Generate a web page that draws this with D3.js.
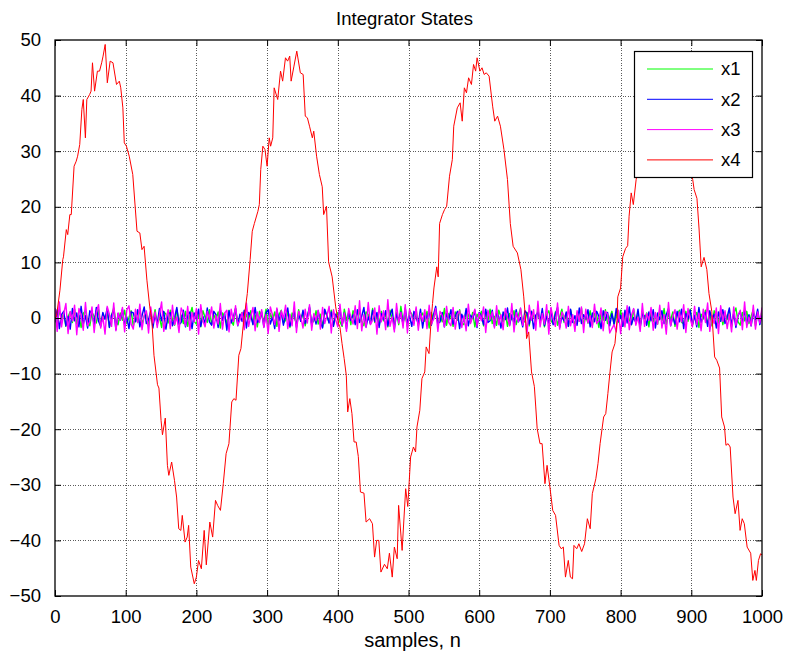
<!DOCTYPE html>
<html>
<head>
<meta charset="utf-8">
<script src="https://cdn.jsdelivr.net/npm/d3@7"></script>
<style>
  body { margin: 0; background: #fff; }
  text { font-family: "Liberation Sans", Arial, sans-serif; fill: #000; }
</style>
</head>
<body>
<svg id="chart" width="793" height="656"></svg>
<script>
// Axis ticks
const xTicks = d3.range(0, 1001, 100);
const yTicks = d3.range(-50, 51, 10);

// Series names and colours
const seriesNames = ["x1", "x2", "x3", "x4"];
const seriesColors = ["#00ff00", "#0000ff", "#ff00ff", "#ff0000"];

// x1..x3: small states hovering round zero, evenly sampled over 0..1000
const x1 = [
0.6,-1.2,1.4,-0.3,0.9,-1.5,0.2,1.1,-0.8,1.6,-1.1,0.4,-1.7,0.8,1.3,-0.5,-1.4,1.0,0.3,-0.9,
1.5,-1.3,0.7,-0.2,1.2,-1.6,0.5,1.8,-0.7,-1.2,0.9,-0.4,1.4,-1.0,0.1,1.3,-1.5,0.6,-0.8,1.7,
-1.1,0.3,1.0,-1.4,0.8,-0.6,1.5,-1.2,0.2,-1.7,1.1,0.7,-0.9,1.4,-0.3,-1.3,1.6,-0.7,0.5,-1.0,
1.2,-1.5,0.4,1.9,-0.6,-1.1,0.8,-1.6,1.3,0.1,-0.8,1.5,-1.2,0.6,-0.4,1.1,-1.8,0.9,0.3,-1.0,
1.4,-0.5,-1.3,1.7,-0.9,0.2,1.0,-1.4,0.7,-0.2,1.3,-1.1,0.5,-1.6,1.2,0.4,-0.7,1.6,-1.3,0.8,
-0.3,1.1,-1.5,0.6,1.4,-0.9,-0.4,1.2,-1.7,0.9,0.2,-1.2,1.5,-0.6,1.0,-1.4,0.3,1.8,-1.0,-0.5,
1.3,-1.1,0.7,-1.6,1.1,0.5,-0.8,1.4,-1.3,0.2,1.0,-0.7,-1.5,1.6,-0.4,0.9,-1.2,1.3,0.1,-1.0,
1.5,-0.6,-1.4,1.1,0.6,-1.1,1.7,-0.8,0.3,-1.3,1.2,-0.5,0.8,-1.6,1.4,-0.2,-0.9,1.0,-1.2,2.1,
-0.7,0.4,-1.5,1.3,0.7,-1.0,1.6,-1.4,0.2,0.9,-0.6,1.2,-1.8,1.0,-0.3,1.4,-1.1,0.5,-0.7,1.7,
-1.3,0.8,0.1,-1.5,1.1,-0.4,1.5,-0.9,-1.2,1.3,0.6,-0.8,1.0,-1.6,0.7,-0.1,1.2,-1.4,0.9,-0.5,
1.6,-1.0,0.3,-1.3,1.4,0.2,-0.7,1.1,-1.5,0.8,-0.3,1.3,-1.2,0.5,1.7,-0.9,-0.6,1.0,-1.4,1.2,
0.4,-1.1,1.5,-0.7,0.9,-1.6,0.6,1.3,-0.5,-1.0,1.1,-1.3,0.2,1.6,-0.8,0.7,-1.5,1.4,-0.2,-1.1,
0.9,-0.6,1.8,-1.2,0.3,-0.9,1.3,-1.4,0.8,0.5,-1.7,1.1,-0.4,1.5,-1.0,0.1,1.2,-1.3,0.6,-0.8,
1.4,-1.5,0.7,1.0,-0.3,-1.2,1.6,-0.9,0.4,-1.4,1.2,-0.1,0.9,-1.6,1.5,-0.7,0.3,-1.1,1.3,-0.5,
1.7,-1.2,0.8,-0.4,1.1,-1.5,0.5,1.4,-0.8,-1.0,1.2,-0.6,1.6,-1.3,0.2,1.0,-1.7,0.7,-0.2,1.4,
-1.1,0.6,-1.4,1.3,0.4,-0.9,1.5,-1.2,0.9,-0.3,1.1,-1.6,0.8,1.8,-0.7,-1.3,1.0,-0.5,1.2,-1.0,
0.3,1.5,-1.4,0.7,-0.6,1.3
];
const x2 = [
-0.8,1.5,-1.9,0.6,1.2,-1.4,0.3,-2.0,1.7,-0.5,0.9,-1.6,2.1,-1.1,0.4,-1.8,1.3,0.7,-1.2,1.9,
-0.6,-1.5,1.0,-0.2,1.8,-1.7,0.5,1.4,-2.1,0.8,-0.4,1.6,-1.3,0.2,-1.9,1.1,0.9,-0.7,1.5,-1.6,
0.4,2.0,-1.0,-0.3,1.3,-1.8,0.7,-1.1,1.7,-0.5,1.2,-2.0,0.6,1.0,-1.4,0.1,1.9,-1.2,-0.8,1.4,
-1.6,0.5,1.1,-1.9,0.9,-0.2,1.6,-1.5,0.3,-1.0,1.8,-0.7,-1.3,1.2,0.6,-1.7,1.5,-0.4,0.8,-2.2,
1.3,-0.9,0.2,1.7,-1.4,0.7,-0.6,1.4,-1.8,1.0,0.4,-1.2,1.9,-0.8,-0.3,1.1,-1.6,0.9,1.5,-1.1,
0.2,-1.9,1.6,-0.5,1.0,-1.3,0.6,1.8,-1.5,-0.1,1.2,-1.7,0.8,-0.6,1.4,-1.0,0.3,2.0,-1.4,0.5,
-1.1,1.3,-0.7,-1.8,1.6,0.4,-0.9,1.1,-1.5,0.7,-0.2,1.7,-1.3,0.9,-1.9,1.2,-0.4,0.6,-1.2,1.5,
-0.8,0.3,1.9,-1.6,0.2,-1.0,1.4,-0.6,1.0,-1.7,0.8,-0.3,1.3,-1.4,0.5,1.6,-2.0,0.7,-0.5,1.1,
-1.2,1.8,-0.9,0.4,-1.5,1.2,0.1,-1.1,1.6,-1.8,0.9,-0.2,1.4,-1.3,0.6,2.1,-1.0,-0.7,1.0,-1.6,
0.8,-0.4,1.5,-1.1,0.3,1.2,-1.9,0.7,-0.6,1.7,-1.4,0.5,-0.1,1.3,-1.7,1.0,0.4,-1.2,1.6,-0.8,
-0.5,1.4,-1.5,0.9,0.2,-1.8,1.1,-0.3,1.8,-1.3,0.6,-1.0,1.5,-0.7,0.1,-1.6,1.3,0.8,-1.1,1.2,
-1.9,0.5,1.0,-0.6,1.7,-1.4,0.3,-0.9,1.4,-1.2,0.7,1.9,-1.7,0.2,-0.5,1.1,-1.5,1.6,-0.8,0.4,
-1.3,1.8,-1.0,0.6,-0.2,1.5,-1.6,0.9,-0.7,1.2,0.3,-1.9,1.3,-0.4,1.0,-1.4,0.8,-1.1,1.7,-0.6,
0.5,-1.5,1.4,-0.9,2.0,-1.2,0.1,-0.8,1.6,-1.7,0.7,0.4,-1.3,1.1,-0.5,1.5,-1.8,0.9,-0.3,1.3,
-1.0,0.6,1.7,-1.4,0.2,-1.1,1.2,-0.7,1.6,-1.9,0.8,-0.2,1.4,-1.2,0.5,-1.6,1.9,-0.8,0.3,1.0,
-1.5,1.3,-0.4,0.7,-1.8,1.1,-0.6,1.5,-1.0,0.2,1.8,-1.3,0.9,-1.7,0.4,1.2,-0.9,1.4,-1.1,0.6,
-1.4,1.0,-0.3,1.6,-1.2,0.5
];
const x3 = [
1.8,-2.4,2.9,-1.6,0.8,2.6,-2.8,1.2,-0.5,2.3,-3.0,1.7,0.4,-2.2,2.8,-1.4,-0.6,2.0,-2.6,1.0,
2.4,-1.8,0.3,-2.9,2.1,0.7,-1.5,2.7,-2.3,0.9,-0.4,1.9,-2.5,1.4,2.2,-1.1,-2.0,1.6,-0.8,2.5,
-2.1,0.5,1.3,-2.7,2.0,-0.9,1.1,-1.7,0.6,2.9,-2.4,-0.3,1.5,-1.9,2.3,-1.2,0.2,-2.6,1.8,0.8,
-1.4,2.1,-2.2,1.0,-0.7,1.7,-2.9,2.4,-0.5,-1.6,1.2,-0.2,2.0,-1.8,0.4,-1.1,2.6,-2.0,0.9,1.4,
-2.5,1.6,-0.6,2.2,-1.3,-0.4,1.0,-2.1,2.7,-1.5,0.3,1.9,-2.3,1.1,-0.8,1.5,-1.7,0.6,-2.8,2.0,
0.5,-1.2,1.8,-2.4,1.3,-0.1,2.3,-1.9,0.7,-1.4,2.9,-2.6,1.2,0.2,-1.8,1.6,-0.9,2.4,-2.2,0.8,
-0.5,1.4,-2.0,1.9,-1.0,0.4,2.1,-2.7,1.5,-0.3,-1.6,2.5,-1.3,0.9,-2.4,1.7,0.1,-1.1,2.2,-1.9,
3.1,-2.3,0.6,-1.7,2.8,-1.2,-0.4,1.8,-2.9,2.2,-0.7,1.3,-2.1,3.3,-1.5,0.2,-2.5,2.6,-0.9,1.0,
-1.8,2.4,-2.7,1.6,0.3,-1.3,2.0,-2.2,0.8,-0.6,1.5,-1.9,2.3,-1.1,-0.2,1.7,-2.4,1.2,0.5,-1.6,
2.1,-0.8,-1.4,1.9,-2.0,0.7,1.3,-1.7,0.4,-2.3,2.5,-1.0,0.2,1.6,-1.5,0.9,-0.5,2.0,-2.6,1.4,
-0.3,1.1,-1.8,2.2,-1.2,0.6,-2.1,1.7,0.1,-1.4,2.6,-2.5,1.0,-0.7,1.8,-1.3,0.5,-2.8,2.3,-0.4,
1.5,-2.2,3.0,-1.6,0.8,-1.1,2.4,-2.9,1.9,-0.2,-1.5,2.7,-2.0,1.1,0.3,-1.8,2.1,-1.4,0.6,-2.4,
1.3,-0.6,2.0,-2.6,1.6,-0.9,0.4,-1.7,2.5,-1.0,-0.5,1.8,-2.3,1.2,0.7,-2.7,-1.9,-1.2,-2.5,1.4,
-2.8,0.9,-1.6,2.2,-2.1,0.5,1.7,-1.3,0.2,-2.4,2.6,-1.5,0.8,-0.4,1.9,-2.2,1.0,-1.1,2.3,-1.8,
0.6,-2.9,2.8,-1.4,0.3,1.5,-2.0,1.1,-0.7,2.4,-2.6,1.7,-0.1,-1.6,2.1,-1.2,0.9,-2.3,1.6,-0.8,
2.7,-2.4,0.4,-1.0,1.8,-2.8,2.2,-0.6,1.3,-1.9,0.7,-2.5,2.0,-1.3,0.5,1.4,-2.1,2.9,-1.7,0.2,
-1.4,2.3,-2.0,1.1,-0.9,1.9
];

// x4: the large oscillating state, sample index and value
const x4Samples = [
0,2,7,11,12,16,18,21,23,27,30,32,35,38,40,43,45,49,51,53,56,60,63,66,68,71,74,78,82,87,
91,93,96,98,101,105,110,116,120,123,126,130,134,137,140,145,147,150,152,156,159,161,165,169,172,175,178,180,184,187,
189,192,197,200,203,207,211,214,219,223,227,230,234,238,242,246,250,253,256,260,263,266,268,272,276,279,282,287,289,291,
294,297,300,303,305,308,310,315,319,322,326,329,332,334,338,342,347,351,354,357,360,364,366,370,374,378,380,384,387,392,
397,401,403,406,409,412,414,417,420,423,426,429,432,437,440,445,449,452,455,458,461,466,470,473,477,480,484,486,491,496,
499,503,507,510,512,516,519,523,525,529,532,534,536,540,542,544,548,551,554,558,562,564,569,573,576,579,582,585,589,592,
595,597,601,604,607,610,614,619,622,626,630,635,640,644,648,654,659,663,666,667,670,674,678,680,682,686,689,693,696,700,
704,708,713,716,719,722,726,729,732,734,738,741,745,749,753,757,760,765,768,771,776,779,782,785,788,792,795,796,800,803,
807,810,812,815,818,822,826,830,835,840,845,850,855,860,865,870,875,880,885,890,895,899,902,904,908,911,914,918,922,925,
929,930,933,936,940,943,947,949,952,955,959,962,966,969,972,975,979,984,987,990,992,995,998,1000
];
const x4Values = [
0,0.2,5,10.5,11,15.9,15,18.6,18.6,27.3,28.2,29.1,31.2,37.5,39.3,32.4,39.3,40.2,40.8,45.9,40.8,44.4,44.4,45.9,47.1,49.2,42.3,46.2,45.9,42,
42.6,41.4,37.8,31.5,30.9,29.1,25.8,15.6,15.3,12.3,12.9,6.8,2,-0.4,-6.7,-12,-12.6,-18.4,-21,-18,-26.5,-28.3,-25.9,-29.2,-32.2,-37.9,-38.2,-35.5,-40.3,-39.4,
-37.3,-44.8,-47.8,-46.6,-43.6,-45.1,-38.2,-44.4,-36.7,-39.4,-32.8,-33.7,-34.6,-29.8,-24.4,-22.6,-15.1,-14.5,-14.8,-6.7,-5.5,-1.6,0.5,4.4,10.5,15.6,17,19.2,20.4,26.7,
30.9,30.3,27.3,32.4,30.9,32.4,41.4,39.3,44.4,42.6,46.8,46.2,47.1,42.6,45.3,48,44.1,43.8,36.3,36,34.5,32.4,33.6,29.1,25.8,23.6,18.6,20.1,10.1,7.4,
2,-1,-1.6,-4.6,-7.3,-10.3,-16.9,-14.5,-17.2,-22.3,-22.3,-24.9,-31.3,-31.5,-36.7,-36.1,-37,-43,-40,-40,-45.7,-44.3,-45.1,-42.3,-46.6,-41.2,-43.3,-33.7,-41.8,-30.7,
-33.9,-25,-23.2,-24.1,-19.6,-16.6,-10.9,-9.7,-5.2,-6.4,-0.4,2.6,5.4,9.2,7.4,17,18.6,19.5,20.1,25.5,28.5,34.5,37.8,38.7,35.4,41.4,40.5,43.2,42,45.6,
44.4,46.8,44.4,45,43.8,44.1,43.5,38.1,35.4,36.3,34.5,30.3,24.9,17,12.9,11.7,8.7,3.8,-1,-3.7,-2.5,-9.7,-12.3,-16,-19.9,-22.6,-22.6,-29.8,-26.5,-30.4,
-34.6,-35.5,-40.9,-41.5,-41.2,-46.6,-43.6,-46.6,-46.9,-40.9,-41.5,-40.6,-42,-40.6,-36.1,-37.9,-31.6,-28.9,-26.2,-22.6,-17.8,-17.2,-13.6,-9.7,-6.1,-4.6,-0.4,3.8,5.4,11,
12.5,13,18.3,22.5,20.4,24.9,28,33,37,40,39,43,45,44,46,43,44,41,38,34,30,27,24.9,23.1,21.5,16,9.2,10.9,8.7,4.4,
1.2,-1,-7,-7.6,-9,-17.8,-19.6,-22.9,-22.6,-23.2,-32.2,-35.2,-32.8,-38.2,-36.1,-37,-41.2,-42.3,-47.2,-45.4,-47.2,-43.6,-42.4,-42.6
];

// ---- layout ----
const svg = d3.select("#chart");
const plot = { left: 55, right: 762, top: 40, bottom: 596 };
const tickLen = 6;

const x = d3.scaleLinear().domain([0, 1000]).range([plot.left, plot.right]);
const y = d3.scaleLinear().domain([-50, 50]).range([plot.bottom, plot.top]);

// evenly spaced sample positions for the small states
const evenSeries = arr => arr.map((v, i) => ({ n: i * 1000 / (arr.length - 1), v }));
const series = [
  evenSeries(x1),
  evenSeries(x2),
  evenSeries(x3),
  x4Samples.map((n, i) => ({ n, v: x4Values[i] }))
];
const seriesWidths = [1.4, 1.4, 1.4, 1];

// white axes background
svg.append("rect").attr("width", 793).attr("height", 656).attr("fill", "#fff");

// dotted grid
const grid = svg.append("g").attr("stroke", "#5a5a5a").attr("stroke-width", 1)
  .attr("stroke-dasharray", "1,1.5").attr("shape-rendering", "crispEdges");
grid.selectAll("line.gx").data(xTicks.slice(1, -1)).join("line").attr("class", "gx")
  .attr("x1", d => Math.round(x(d)) + 0.5).attr("x2", d => Math.round(x(d)) + 0.5)
  .attr("y1", plot.top).attr("y2", plot.bottom);
grid.selectAll("line.gy").data(yTicks.slice(1, -1)).join("line").attr("class", "gy")
  .attr("y1", d => Math.round(y(d)) + 0.5).attr("y2", d => Math.round(y(d)) + 0.5)
  .attr("x1", plot.left).attr("x2", plot.right);

// clip to axes box
svg.append("clipPath").attr("id", "clip").append("rect")
  .attr("x", plot.left).attr("y", plot.top)
  .attr("width", plot.right - plot.left).attr("height", plot.bottom - plot.top);

const line = d3.line().x(d => x(d.n)).y(d => y(d.v));
svg.append("g").attr("clip-path", "url(#clip)")
  .selectAll("path").data(series).join("path")
  .attr("d", line).attr("fill", "none")
  .attr("stroke", (d, i) => seriesColors[i]).attr("stroke-width", (d, i) => seriesWidths[i])
  .attr("stroke-linejoin", "round");

// axes with inward ticks on all four sides
const axisFmt = d3.format("d");
const bottomAxis = svg.append("g").attr("transform", `translate(0,${plot.bottom})`)
  .call(d3.axisBottom(x).tickValues(xTicks).tickFormat(axisFmt).tickSizeInner(-tickLen).tickSizeOuter(0).tickPadding(tickLen + 8));
const leftAxis = svg.append("g").attr("transform", `translate(${plot.left},0)`)
  .call(d3.axisLeft(y).tickValues(yTicks).tickFormat(axisFmt).tickSizeInner(-tickLen).tickSizeOuter(0).tickPadding(tickLen + 8));
const topAxis = svg.append("g").attr("transform", `translate(0,${plot.top})`)
  .call(d3.axisTop(x).tickValues(xTicks).tickFormat("").tickSizeInner(-tickLen).tickSizeOuter(0));
const rightAxis = svg.append("g").attr("transform", `translate(${plot.right},0)`)
  .call(d3.axisRight(y).tickValues(yTicks).tickFormat("").tickSizeInner(-tickLen).tickSizeOuter(0));

[bottomAxis, leftAxis, topAxis, rightAxis].forEach(g => {
  g.select(".domain").remove();
  g.selectAll(".tick line").attr("stroke", "#000");
  g.selectAll(".tick text").style("font-size", "18.5px").attr("fill", "#000")
    .style("font-family", "'Liberation Sans', Arial, sans-serif");
});

// axes box
svg.append("rect")
  .attr("x", plot.left).attr("y", plot.top)
  .attr("width", plot.right - plot.left).attr("height", plot.bottom - plot.top)
  .attr("fill", "none").attr("stroke", "#000").attr("stroke-width", 1.3);

// title and axis label
svg.append("text").attr("x", (plot.left + plot.right) / 2 - 4).attr("y", 25)
  .attr("text-anchor", "middle").style("font-size", "18.5px").text("Integrator States");
svg.append("text").attr("x", (plot.left + plot.right) / 2 + 4).attr("y", 647)
  .attr("text-anchor", "middle").style("font-size", "20px").text("samples, n");

// legend
const leg = svg.append("g");
leg.append("rect").attr("x", 634.5).attr("y", 51.5).attr("width", 118).attr("height", 126)
  .attr("fill", "#fff").attr("stroke", "#000").attr("stroke-width", 1.2);
const items = leg.selectAll("g.item").data(seriesNames).join("g").attr("class", "item")
  .attr("transform", (d, i) => `translate(0,${69 + i * 30.3})`);
items.append("line").attr("x1", 647).attr("x2", 713)
  .attr("stroke", (d, i) => seriesColors[i]).attr("stroke-width", 1);
items.append("text").attr("x", 721).attr("dy", "0.35em").style("font-size", "18.5px").text(d => d);
</script>
</body>
</html>
